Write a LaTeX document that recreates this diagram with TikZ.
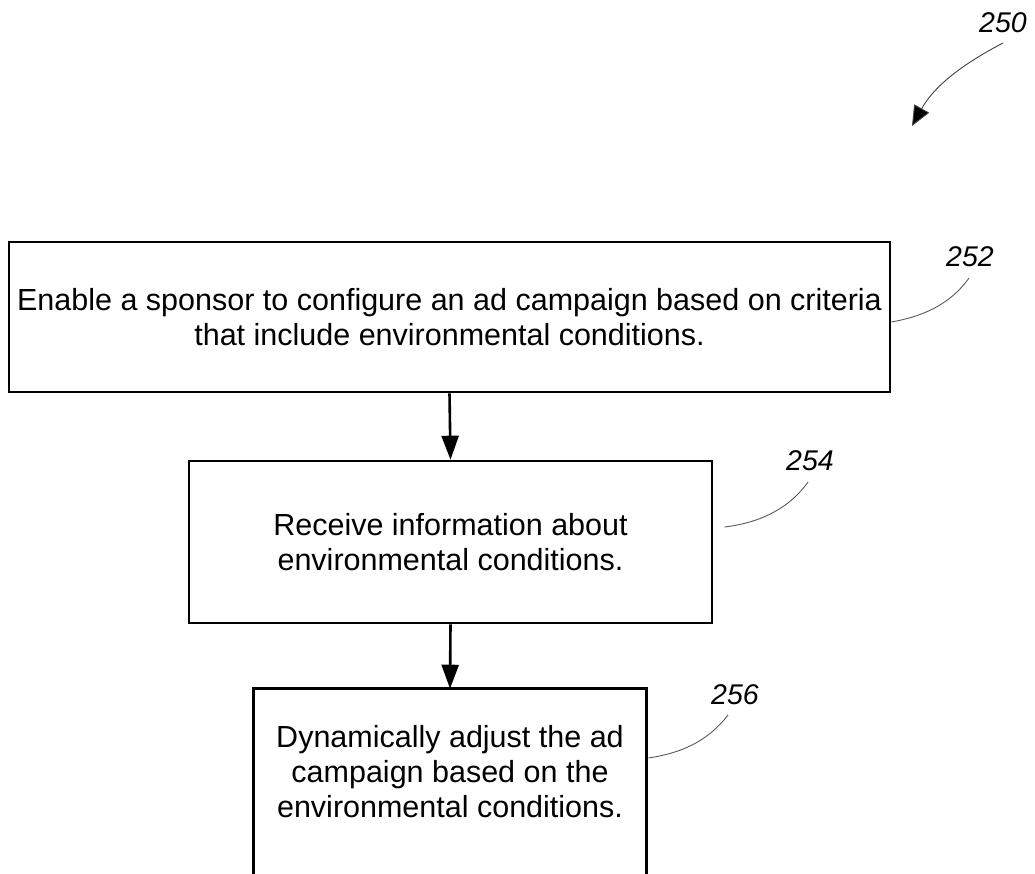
\documentclass[tikz,border=0pt]{standalone}
\usepackage{fontspec}
\setmainfont{Liberation Sans}
\usetikzlibrary{arrows.meta}
\tikzset{
  stepbox/.style={draw=black, line width=2.6pt, inner sep=0pt, align=center,
    font=\fontsize{30.5}{35}\selectfont},
  flow/.style={line width=2.6pt, -{Triangle[length=24pt,width=17pt]}},
  leader/.style={draw=black!65, line width=0.9pt},
  reflabel/.style={font=\fontsize{28.5}{32}\selectfont\itshape, inner sep=0pt},
}
\begin{document}
\begin{tikzpicture}[x=1pt,y=-1pt]
\useasboundingbox (0,0) rectangle (1035,873);
\clip (0,0) rectangle (1035,873);

\node[stepbox, minimum width=881pt, minimum height=150pt] (b1) at (449.5,317)
  {Enable a sponsor to configure an ad campaign based on criteria\\that include environmental conditions.};
\node[stepbox, minimum width=523pt, minimum height=162pt] (b2) at (450.5,542)
  {Receive information about\\environmental conditions.};
\node[stepbox, draw=none, minimum width=390pt, minimum height=164pt] (b3) at (450,772)
  {Dynamically adjust the ad\\campaign based on the\\environmental conditions.};
\draw[line width=2.6pt] ([yshift=-30pt]b3.south west) -- (b3.north west) -- (b3.north east) -- ([yshift=-30pt]b3.south east);

\draw[flow] (b1.south) -- (b2.north);
\draw[flow] (b2.south) -- (b3.north);

% reference labels
\node[reflabel] (l250) at (1003,23) {250};
\node[reflabel] (l252) at (970,257) {252};
\node[reflabel] (l254) at (810,461) {254};
\node[reflabel] (l256) at (735,695) {256};

\coordinate (t250) at (912,126);
\coordinate (s250) at (1003,43);
\draw[draw=black!75, line width=0.9pt, -{Triangle[length=20pt,width=17pt,fill=black]}] (s250) .. controls (955,68) and (932,90) .. (t250);

\coordinate (e252) at (969,278);
\draw[leader] ([yshift=-5pt]b1.east) .. controls (920,317) and (949,306) .. (e252);
\coordinate (e254) at (808,482);
\draw[leader] ([xshift=11pt,yshift=15pt]b2.east) .. controls (758,523) and (788,510) .. (e254);
\coordinate (e256) at (728,715);
\draw[leader] ([xshift=2pt,yshift=14pt]b3.east) .. controls (682,753) and (708,741) .. (e256);
\end{tikzpicture}
\end{document}
